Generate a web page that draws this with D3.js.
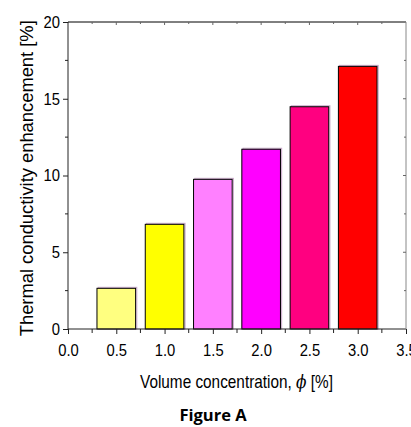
<!DOCTYPE html>
<html><head><meta charset="utf-8">
<script src="https://cdn.jsdelivr.net/npm/d3@7"></script>
<style>body{margin:0;background:#fff}svg{display:block}</style>
</head><body>
<svg id="c" width="411" height="427"></svg>
<script>
const categories = [0.5, 1.0, 1.5, 2.0, 2.5, 3.0];
const values = [2.65, 6.82, 9.75, 11.71, 14.48, 17.11];
const colors = ["#FFFF80", "#FFFF00", "#FF80FF", "#FF00FF", "#FF0080", "#FF0000"];
const xTicks = [0.0, 0.5, 1.0, 1.5, 2.0, 2.5, 3.0, 3.5];
const yTicks = [0, 5, 10, 15, 20];

const svg = d3.select("#c");
const L = 68, R = 406, T = 22, B = 329;
const x = d3.scaleLinear().domain([0, 3.5]).range([L, R]);
const y = d3.scaleLinear().domain([0, 20]).range([B, T]);
const font = "Liberation Sans, Arial, sans-serif";

// bars with shadow
const bw = x(0.4) - x(0);
svg.append("g").selectAll("rect").data(categories).join("rect")
  .attr("x", d => x(d) - bw/2 + 1.2).attr("y", (d,i) => y(values[i]) - 1)
  .attr("width", bw).attr("height", (d,i) => B - y(values[i]) + 1)
  .attr("fill", "none").attr("stroke", "#b080b0").attr("stroke-width", 1).attr("opacity", 0.7);
svg.append("g").selectAll("rect").data(categories).join("rect")
  .attr("x", d => x(d) - bw/2).attr("y", (d,i) => y(values[i]))
  .attr("width", bw).attr("height", (d,i) => B - y(values[i]))
  .attr("fill", (d,i) => colors[i]).attr("stroke", "#000").attr("stroke-width", 1);

// axes
const xAxis = d3.axisBottom(x).tickValues(xTicks).tickFormat(d3.format(".1f")).tickSize(5).tickPadding(10);
const gx = svg.append("g").attr("transform", `translate(0,${B})`).call(xAxis);
const yAxis = d3.axisLeft(y).tickValues(yTicks).tickFormat(d3.format("d")).tickSize(5).tickPadding(3);
const gy = svg.append("g").attr("transform", `translate(${L},0)`).call(yAxis);
[gx, gy].forEach(g => {
  g.selectAll("text").attr("font-family", font).attr("font-size", 17).attr("fill", "#000")
    .each(function(){ const w = this.getComputedTextLength(); this.setAttribute("textLength", w*0.87); this.setAttribute("lengthAdjust","spacingAndGlyphs"); });
  g.selectAll("line,path").attr("stroke", "#222");
});
gx.select(".domain").attr("d", `M${L},0H${R}`);
gy.select(".domain").attr("d", `M0,${B}V${T}`);

// minor ticks
const xMinor = d3.range(0.25, 3.5, 0.5);
svg.append("g").selectAll("line").data(xMinor).join("line")
  .attr("x1", d => x(d)).attr("x2", d => x(d)).attr("y1", B).attr("y2", B + 4).attr("stroke", "#222");
const yMinor = d3.range(2.5, 20, 5);
svg.append("g").selectAll("line").data(yMinor).join("line")
  .attr("x1", L).attr("x2", L - 3).attr("y1", d => y(d)).attr("y2", d => y(d)).attr("stroke", "#222");

// top & right frame with inward ticks
svg.append("line").attr("x1", L).attr("x2", R).attr("y1", T).attr("y2", T).attr("stroke", "#000");
svg.append("line").attr("x1", R).attr("x2", R).attr("y1", T).attr("y2", B).attr("stroke", "#888");
const xAll = d3.range(0.25, 3.5, 0.25);
svg.append("g").selectAll("line").data(xAll).join("line")
  .attr("x1", d => x(d)).attr("x2", d => x(d)).attr("y1", T).attr("y2", d => T + (Math.abs(d*2 - Math.round(d*2)) < 1e-6 ? 3 : 2)).attr("stroke", "#666");
const yAll = d3.range(2.5, 20, 2.5);
svg.append("g").selectAll("line").data(yAll).join("line")
  .attr("x1", R).attr("x2", d => R - (d % 5 === 0 ? 3 : 2)).attr("y1", d => y(d)).attr("y2", d => y(d)).attr("stroke", "#666");

// labels
const xl = svg.append("g");
const xt = xl.append("text").attr("x", 0).attr("y", 0).attr("text-anchor", "start")
  .attr("font-family", font).attr("font-size", 18).attr("fill", "#000")
  .html('Volume concentration, <tspan font-family="DejaVu Serif" font-style="italic">ϕ</tspan> [%]');
const xw = xt.node().getComputedTextLength();
xl.attr("transform", `translate(140,387.5) scale(${193 / xw},1)`);

svg.append("text").attr("transform", `translate(33,${(20 + 336.5) / 2}) rotate(-90)`).attr("text-anchor", "middle")
  .attr("font-family", font).attr("font-size", 18).attr("fill", "#000")
  .attr("textLength", 316).attr("lengthAdjust", "spacingAndGlyphs")
  .text("Thermal conductivity enhancement [%]");
svg.append("text").attr("x", 213).attr("y", 420.5).attr("text-anchor", "middle")
  .attr("font-family", "Open Sans, sans-serif").attr("font-weight", "bold").attr("font-size", 16.5).attr("fill", "#000")
  .text("Figure A");
</script>
</body></html>
